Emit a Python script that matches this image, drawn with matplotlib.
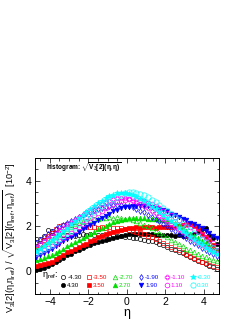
import matplotlib
matplotlib.use('Agg')
import matplotlib.pyplot as plt
from matplotlib.ticker import MultipleLocator

plt.rcParams['font.family'] = ['Liberation Sans', 'DejaVu Sans']
plt.rcParams['mathtext.fontset'] = 'custom'
plt.rcParams['mathtext.rm'] = 'Liberation Sans'
plt.rcParams['mathtext.it'] = 'Liberation Sans'
plt.rcParams['mathtext.bf'] = 'Liberation Sans:bold'

# bin centres in eta
eta = [-4.7, -4.5, -4.3, -4.1, -3.9, -3.7, -3.5, -3.3, -3.1, -2.9, -2.7, -2.5,
       -2.3, -2.1, -1.9, -1.7, -1.5, -1.3, -1.1, -0.9, -0.7, -0.5, -0.3, -0.1,
       0.1, 0.3, 0.5, 0.7, 0.9, 1.1, 1.3, 1.5, 1.7, 1.9, 2.1, 2.3, 2.5, 2.7,
       2.9, 3.1, 3.3, 3.5, 3.7, 3.9, 4.1, 4.3, 4.5, 4.7]

# V3[2](eta, eta_ref) / sqrt(V3[2](eta_ref, eta_ref))  [10^-2]
n430 = [1.28, 1.42, 1.58, 1.82, 1.80, 1.70, 1.66, 1.62, 1.60, 1.62,
        1.58, 1.61, 1.63, 1.60, 1.64, 1.62, 1.60, 1.61, 1.60, 1.58,
        1.60, 1.57, 1.55, 1.52, 1.50, 1.47, 1.45, 1.43, 1.40, 1.36,
        1.32, 1.28, 1.22, 1.15, 1.08, 1.00, 0.93, 0.86, 0.80, 0.72,
        0.64, 0.55, 0.47, 0.40, 0.33, 0.24, 0.18, 0.12]
p430 = [0.07, 0.12, 0.15, 0.25, 0.33, 0.40, 0.50, 0.60, 0.70, 0.78,
        0.88, 0.95, 1.02, 1.10, 1.18, 1.25, 1.30, 1.36, 1.40, 1.42,
        1.45, 1.50, 1.55, 1.60, 1.63, 1.65, 1.66, 1.65, 1.66, 1.64,
        1.63, 1.62, 1.60, 1.62, 1.60, 1.60, 1.58, 1.60, 1.57, 1.58,
        1.60, 1.65, 1.72, 1.85, 1.90, 1.60, 1.45, 1.22]
n350 = [1.00, 1.18, 1.38, 1.55, 1.70, 1.88, 1.98, 2.05, 2.10, 2.03,
        2.00, 1.97, 1.99, 1.96, 1.94, 1.97, 1.92, 1.94, 1.93, 1.96,
        1.91, 1.93, 1.90, 1.88, 1.84, 1.80, 1.74, 1.70, 1.64, 1.58,
        1.50, 1.42, 1.34, 1.26, 1.17, 1.08, 1.00, 0.92, 0.84, 0.76,
        0.66, 0.58, 0.50, 0.42, 0.36, 0.30, 0.24, 0.20]
p350 = [0.25, 0.30, 0.33, 0.38, 0.42, 0.55, 0.62, 0.72, 0.84, 0.90,
        1.00, 1.07, 1.15, 1.22, 1.32, 1.40, 1.50, 1.57, 1.63, 1.70,
        1.75, 1.78, 1.82, 1.88, 1.92, 1.93, 1.95, 1.93, 1.95, 1.94,
        1.95, 1.93, 1.95, 1.96, 1.95, 1.97, 1.98, 2.02, 2.05, 2.08,
        2.07, 2.00, 1.85, 1.65, 1.50, 1.35, 1.15, 0.95]
n270 = [0.92, 1.03, 1.15, 1.28, 1.40, 1.50, 1.62, 1.74, 1.86, 1.97,
        2.07, 2.14, 2.20, 2.24, 2.27, 2.30, 2.33, 2.35, 2.36, 2.38,
        2.37, 2.38, 2.36, 2.33, 2.30, 2.25, 2.20, 2.13, 2.06, 1.98,
        1.90, 1.80, 1.70, 1.60, 1.50, 1.40, 1.30, 1.20, 1.10, 1.00,
        0.92, 0.84, 0.76, 0.68, 0.62, 0.56, 0.50, 0.45]
p270 = [0.50, 0.55, 0.60, 0.68, 0.74, 0.82, 0.90, 1.00, 1.10, 1.20,
        1.30, 1.38, 1.45, 1.55, 1.65, 1.75, 1.85, 1.93, 2.02, 2.10,
        2.17, 2.22, 2.27, 2.32, 2.35, 2.37, 2.37, 2.36, 2.35, 2.33,
        2.32, 2.30, 2.28, 2.25, 2.22, 2.20, 2.15, 2.05, 1.92, 1.78,
        1.65, 1.55, 1.45, 1.35, 1.25, 1.12, 1.00, 0.88]
n190 = [1.25, 1.38, 1.52, 1.63, 1.75, 1.85, 1.95, 2.05, 2.14, 2.23,
        2.32, 2.40, 2.48, 2.56, 2.63, 2.70, 2.76, 2.81, 2.86, 2.90,
        2.92, 2.93, 2.92, 2.90, 2.87, 2.82, 2.76, 2.68, 2.60, 2.50,
        2.40, 2.30, 2.20, 2.10, 1.98, 1.88, 1.77, 1.66, 1.55, 1.45,
        1.35, 1.25, 1.15, 1.05, 0.95, 0.86, 0.77, 0.68]
p190 = [0.62, 0.70, 0.80, 0.90, 1.00, 1.10, 1.20, 1.32, 1.42, 1.52,
        1.62, 1.75, 1.85, 1.95, 2.05, 2.15, 2.27, 2.36, 2.45, 2.55,
        2.65, 2.72, 2.78, 2.82, 2.85, 2.87, 2.88, 2.90, 2.90, 2.88,
        2.85, 2.80, 2.75, 2.70, 2.65, 2.55, 2.47, 2.40, 2.33, 2.25,
        2.15, 2.07, 2.00, 1.90, 1.80, 1.68, 1.57, 1.45]
n110 = [1.08, 1.20, 1.33, 1.45, 1.57, 1.69, 1.81, 1.93, 2.05, 2.16,
        2.27, 2.38, 2.49, 2.60, 2.70, 2.80, 2.89, 2.97, 3.05, 3.12,
        3.18, 3.22, 3.24, 3.22, 3.18, 3.12, 3.05, 2.97, 2.88, 2.78,
        2.67, 2.56, 2.45, 2.33, 2.21, 2.09, 1.97, 1.85, 1.73, 1.61,
        1.49, 1.38, 1.27, 1.17, 1.07, 0.98, 0.90, 0.83]
p110 = [0.78, 0.85, 0.93, 1.02, 1.12, 1.22, 1.34, 1.46, 1.58, 1.70,
        1.83, 1.96, 2.09, 2.22, 2.35, 2.47, 2.58, 2.68, 2.78, 2.88,
        2.96, 3.04, 3.10, 3.16, 3.20, 3.22, 3.20, 3.16, 3.10, 3.02,
        2.95, 2.87, 2.78, 2.68, 2.58, 2.48, 2.38, 2.28, 2.17, 2.06,
        1.95, 1.84, 1.72, 1.60, 1.49, 1.37, 1.25, 1.12]
n030 = [0.86, 0.98, 1.11, 1.24, 1.37, 1.51, 1.65, 1.79, 1.93, 2.07,
        2.21, 2.35, 2.49, 2.63, 2.76, 2.89, 3.01, 3.12, 3.22, 3.31,
        3.38, 3.44, 3.47, 3.46, 3.42, 3.36, 3.28, 3.19, 3.09, 2.98,
        2.86, 2.74, 2.61, 2.48, 2.35, 2.21, 2.07, 1.93, 1.79, 1.65,
        1.52, 1.39, 1.27, 1.15, 1.04, 0.94, 0.85, 0.77]
p030 = [0.80, 0.88, 0.97, 1.07, 1.17, 1.29, 1.41, 1.54, 1.67, 1.80,
        1.94, 2.08, 2.22, 2.36, 2.50, 2.63, 2.76, 2.88, 3.00, 3.11,
        3.21, 3.30, 3.38, 3.44, 3.48, 3.50, 3.47, 3.42, 3.35, 3.26,
        3.16, 3.05, 2.93, 2.80, 2.67, 2.53, 2.39, 2.25, 2.10, 1.96,
        1.82, 1.68, 1.54, 1.41, 1.28, 1.15, 1.02, 0.90]

labels = ['-4.30', '4.30', '-3.50', '3.50', '-2.70', '2.70',
          '-1.90', '1.90', '-1.10', '1.10', '-0.30', '0.30']
series = [n430, p430, n350, p350, n270, p270, n190, p190, n110, p110, n030, p030]
colors = ['black', 'black', 'red', 'red', '#00dd00', '#00dd00',
          'blue', 'blue', 'magenta', 'magenta', 'cyan', 'cyan']
markers = ['o', 'o', 's', 's', '^', '^', 'd', 'v', 'P', 'o', '*', 'o']
filled = [False, True, False, True, False, True, False, True, False, False, True, False]
sizes = [3.0, 3.0, 3.0, 3.0, 3.3, 3.3, 3.0, 3.3, 3.4, 3.4, 4.0, 3.8]

fig = plt.figure(figsize=(2.49, 3.23), dpi=100)
ax = fig.add_axes([0.1386, 0.0898, 0.7410, 0.4210])

for y, lab, c, m, f, s in zip(series, labels, colors, markers, filled, sizes):
    ax.plot(eta, y, ls='none', marker=m, ms=s, mew=0.5, color=c,
            mfc=c if f else 'none', mec=c, label=lab)

ax.set_xlim(-4.8, 4.8)
ax.set_ylim(-1, 5)
ax.xaxis.set_major_locator(MultipleLocator(2))
ax.xaxis.set_minor_locator(MultipleLocator(0.5))
ax.yaxis.set_major_locator(MultipleLocator(2))
ax.yaxis.set_minor_locator(MultipleLocator(0.5))
ax.tick_params(which='both', direction='in', top=True, right=True,
               labelsize=7.5, pad=2, width=0.5)
ax.tick_params(which='major', length=3.5)
ax.tick_params(which='minor', length=1.8)
for sp in ax.spines.values():
    sp.set_linewidth(0.7)

ax.set_xlabel('η', fontsize=9, labelpad=0)

fig.text(0.04, 0.265,
         r'V$_3$[2](η,η$_{ref}$) / $\sqrt{\mathrm{V}_3[2](\eta_{ref},\eta_{ref})}$  [10$^{-2}$]',
         rotation=90, ha='center', va='center', fontsize=6.6)

ax.text(0.06, 0.935, r'histogram: $\sqrt{\mathbf{V}_3\mathbf{[2](\eta,\eta)}}$',
        transform=ax.transAxes, fontsize=4.7, fontweight='bold', va='center')

ax.text(0.04, 0.135, r'η$_{ref}$:', transform=ax.transAxes, fontsize=6.5,
        va='center')
leg = ax.legend(ncol=6, loc='lower left', bbox_to_anchor=(0.135, 0.03),
                frameon=False, fontsize=4.5, handlelength=0.6,
                handletextpad=0.35, columnspacing=0.9, labelspacing=0.35,
                borderpad=0.2, borderaxespad=0.1)
for t, c in zip(leg.get_texts(), colors):
    t.set_color(c)

fig.savefig('out.png', dpi=100, facecolor='white')
